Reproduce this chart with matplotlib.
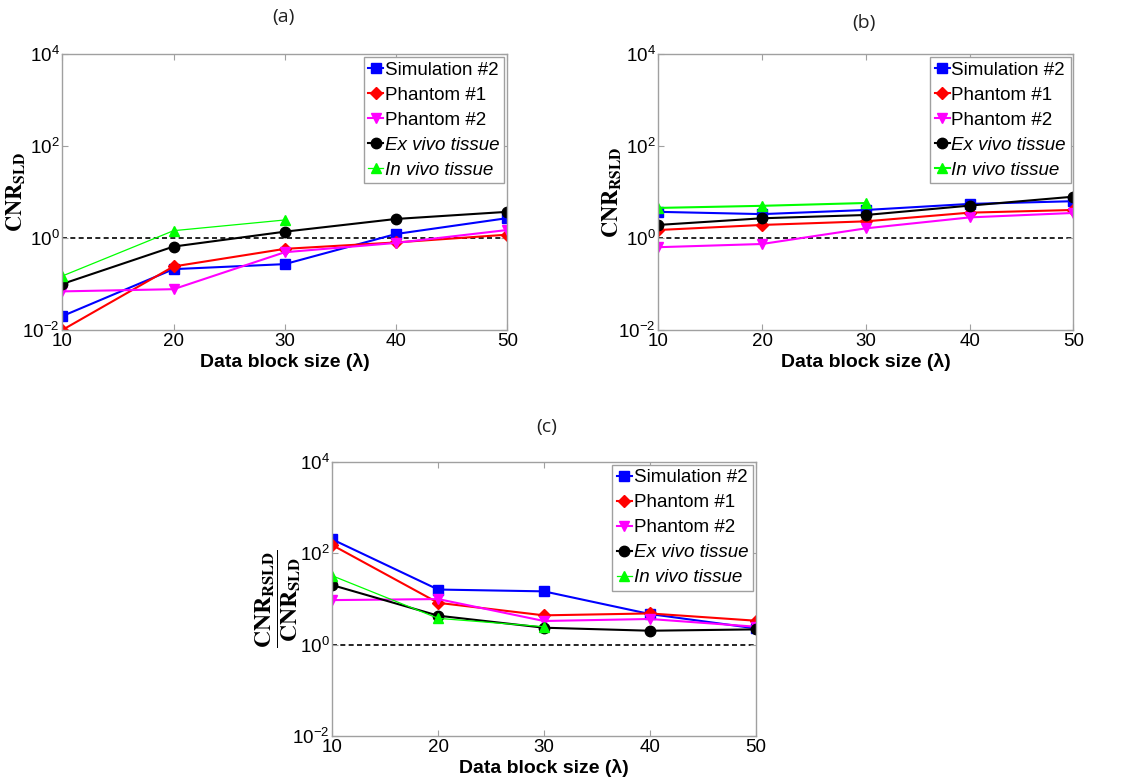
import matplotlib
matplotlib.use("Agg")
import matplotlib.pyplot as plt
from matplotlib.ticker import NullLocator

plt.rcParams['font.family'] = ['Liberation Sans', 'DejaVu Sans']
plt.rcParams['mathtext.fontset'] = 'stix'
plt.rcParams['axes.unicode_minus'] = False

block_size = [10, 20, 30, 40, 50]
block_size_in_vivo = [10, 20, 30]

series_names = ['Simulation #2', 'Phantom #1', 'Phantom #2',
                'Ex vivo tissue', 'In vivo tissue']

# (a) CNR with SLD
sld_sim2 = [0.020, 0.21, 0.27, 1.22, 2.7]
sld_ph1 = [0.010, 0.24, 0.58, 0.80, 1.18]
sld_ph2 = [0.069, 0.077, 0.49, 0.78, 1.49]
sld_exvivo = [0.10, 0.65, 1.37, 2.59, 3.7]
sld_invivo = [0.149, 1.44, 2.46]

# (b) CNR with RSLD
rsld_sim2 = [3.7, 3.3, 4.06, 5.5, 6.3]
rsld_ph1 = [1.49, 1.92, 2.3, 3.55, 4.06]
rsld_ph2 = [0.63, 0.74, 1.62, 2.8, 3.5]
rsld_exvivo = [1.92, 2.68, 3.16, 5.05, 7.9]
rsld_invivo = [4.5, 5.0, 5.76]

# (c) ratio RSLD / SLD
ratio_sim2 = [200, 16, 14.6, 4.66, 2.26]
ratio_ph1 = [150, 8.2, 4.36, 4.8, 3.33]
ratio_ph2 = [9.4, 9.9, 3.28, 3.63, 2.46]
ratio_exvivo = [20, 4.29, 2.34, 2.01, 2.15]
ratio_invivo = [32, 3.75, 2.46]

styles = [
    dict(color='#0000ff', marker='s', ms=6.5, lw=1.5),
    dict(color='#ff0000', marker='D', ms=6.5, lw=1.5),
    dict(color='#ff00ff', marker='v', ms=7.5, lw=1.5),
    dict(color='#000000', marker='o', ms=7.5, lw=1.5),
    dict(color='#00ff00', marker='^', ms=7.5, lw=0.9),
]


def draw_panel(ax, data, ylabel, label_x, label_size, green_lw=0.9):
    for i, (name, vals) in enumerate(zip(series_names, data)):
        st = dict(styles[i])
        if i == 4:
            st['lw'] = green_lw
        xs = block_size_in_vivo if i == 4 else block_size
        ax.plot(xs, vals, label=name, markeredgecolor=st['color'],
                markerfacecolor=st['color'], **st)
    ax.axhline(1.0, color='k', ls=(0, (3, 2)), lw=1.2, zorder=1)

    ax.set_yscale('log')
    ax.set_xlim(10, 50)
    ax.set_ylim(1e-2, 1e4)
    ax.set_xticks(block_size)
    ax.set_yticks([1e-2, 1e0, 1e2, 1e4])
    ax.yaxis.set_minor_locator(NullLocator())
    ax.tick_params(direction='in', top=True, right=True, length=4,
                   color='#a0a0a0', labelsize=13.5, pad=2)
    for sp in ax.spines.values():
        sp.set_color('#a0a0a0')
        sp.set_linewidth(1.0)

    ax.set_xlabel('Data block size (\u03bb)', fontsize=14,
                  fontweight='bold', labelpad=2)
    ax.set_ylabel(ylabel, fontsize=label_size)
    ax.yaxis.set_label_coords(label_x, 0.5)

    leg = ax.legend(loc='upper right', fontsize=13.5, fancybox=False,
                    framealpha=1, edgecolor='#a0a0a0', borderpad=0.25,
                    labelspacing=0.42, handlelength=0.8, handletextpad=0.1,
                    borderaxespad=0.15)
    leg.get_frame().set_linewidth(1.0)
    for t in leg.get_texts()[3:]:
        t.set_style('italic')


fig = plt.figure(figsize=(11.43, 7.81), dpi=100)

ax_a = fig.add_axes([0.0545, 0.5775, 0.3893, 0.3534])
ax_b = fig.add_axes([0.5760, 0.5775, 0.3631, 0.3534])
ax_c = fig.add_axes([0.2907, 0.0576, 0.3704, 0.3512])

draw_panel(ax_a, [sld_sim2, sld_ph1, sld_ph2, sld_exvivo, sld_invivo],
           r'$\mathbf{CNR}_{\mathbf{SLD}}$', -0.079, 16)
draw_panel(ax_b, [rsld_sim2, rsld_ph1, rsld_ph2, rsld_exvivo, rsld_invivo],
           r'$\mathbf{CNR}_{\mathbf{RSLD}}$', -0.085, 16, green_lw=1.5)
draw_panel(ax_c, [ratio_sim2, ratio_ph1, ratio_ph2, ratio_exvivo, ratio_invivo],
           r'$\dfrac{\mathbf{CNR}_{\mathbf{RSLD}}}{\mathbf{CNR}_{\mathbf{SLD}}}$',
           -0.069, 17)

for x, y, s in [(0.2476, 0.978, '(a)'), (0.756, 0.9706, '(b)'),
                (0.4786, 0.4533, '(c)')]:
    fig.text(x, y, s, ha='center', va='center', fontsize=14,
             family='Open Sans', color='#222222')

fig.savefig('out.png', dpi=100)
